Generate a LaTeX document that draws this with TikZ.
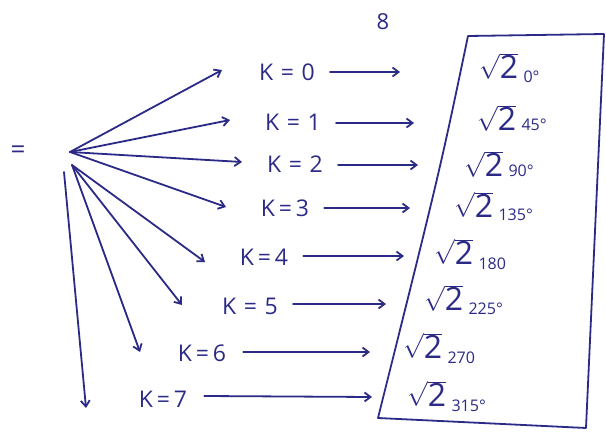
\documentclass[tikz,border=0pt]{standalone}
\usepackage{fontspec}
\setmainfont{Open Sans}
\usetikzlibrary{arrows.meta}
\definecolor{ink}{HTML}{2B2A86}
\newcommand\angsz{\fontsize{16}{16}\selectfont}
\newcommand\rtwo{$\sqrt{\mbox{2}}$}
\begin{document}
\begin{tikzpicture}[x=1pt,y=-1pt,
  ink/.style={draw=ink,line width=1.8pt,line cap=round,line join=round},
  arr/.style={ink,-{Straight Barb[length=6pt,width=9pt]}},
  klab/.style={text=ink,font=\fontsize{23}{23}\selectfont,inner sep=1pt},
  val/.style={text=ink,font=\fontsize{32}{32}\selectfont,inner sep=1pt,anchor=west}]
\useasboundingbox (0,0) rectangle (606,434);
\node[text=ink,font=\fontsize{22}{22}\selectfont] (eight) at (383,22) {8};
\node[text=ink,font=\fontsize{26}{26}\selectfont] (eq) at (18,152) {=};
\coordinate (s) at (70,152);
\coordinate (s2) at (72,165);
\coordinate (s3) at (64,172);
% labels
\node[klab] (k0) at (287,72) {K\,\,=\,\,0};
\node[klab] (k1) at (293,122) {K\,\,=\,\,1};
\node[klab] (k2) at (295,164) {K\,\,=\,\,2};
\node[klab] (k3) at (285,208) {K\,=\,3};
\node[klab] (k4) at (264,257) {K\,=\,4};
\node[klab] (k5) at (250,306) {K\,\,=\,\,5};
\node[klab] (k6) at (202,353) {K\,=\,6};
\node[klab] (k7) at (163,399) {K\,=\,7};
% fan arrows
\coordinate (t0) at (222,70);
\coordinate (t1) at (230,120);
\coordinate (t2) at (242,162);
\coordinate (t3) at (226,207);
\coordinate (t4) at (205,262);
\coordinate (t5) at (182,305);
\coordinate (t6) at (140,352);
\coordinate (t7) at (86,408);
\draw[arr] (s) -- (t0);
\draw[arr] (s) -- (t1);
\draw[arr] (s) -- (t2);
\draw[arr] (s) -- (t3);
\draw[arr] (s2) -- (t4);
\draw[arr] (s2) -- (t5);
\draw[arr] (s2) -- (t6);
\draw[arr] (s3) -- (t7);
% box
\coordinate (bl) at (378,418);
\coordinate (tl) at (468,36);
\coordinate (tr) at (604,34);
\coordinate (br) at (586,428);
\draw[ink] (tr) -- (tl) .. controls (440,170) .. (bl) -- (br) -- (tr);
% values
\node[val] (v0) at (478,68) {\rtwo\,\raisebox{-4pt}{\angsz 0°}};
\node[val] (v1) at (476,118) {\rtwo\,{\angsz 45°}};
\node[val] (v2) at (463,164) {\rtwo\,{\angsz 90°}};
\node[val] (v3) at (453,206) {\rtwo\,\raisebox{-3pt}{\angsz 135°}};
\node[val] (v4) at (433,254) {\rtwo\,\raisebox{-5pt}{\angsz 180}};
\node[val] (v5) at (423,300) {\rtwo\,\raisebox{-4pt}{\angsz 225°}};
\node[val] (v6) at (402,348) {\rtwo\,\raisebox{-5pt}{\angsz 270}};
\node[val] (v7) at (406,396) {\rtwo\,\raisebox{-5pt}{\angsz 315°}};
% row arrow ends
\coordinate (e0) at (400,72);
\coordinate (e1) at (414,123);
\coordinate (e2) at (418,165);
\coordinate (e3) at (410,208);
\coordinate (e4) at (404,256);
\coordinate (e5) at (386,304);
\coordinate (e6) at (370,352);
\coordinate (e7) at (372,397);
\draw[arr] (k0.east) ++(14,0) -- (e0);
\draw[arr] (k1.east) ++(14,1) -- (e1);
\draw[arr] (k2.east) ++(14,1) -- (e2);
\draw[arr] (k3.east) ++(14,0) -- (e3);
\draw[arr] (k4.east) ++(14,-1) -- (e4);
\draw[arr] (k5.east) ++(14,-2) -- (e5);
\draw[arr] (k6.east) ++(16,-1) -- (e6);
\draw[arr] (k7.east) ++(16,-3) -- (e7);
\end{tikzpicture}
\end{document}
